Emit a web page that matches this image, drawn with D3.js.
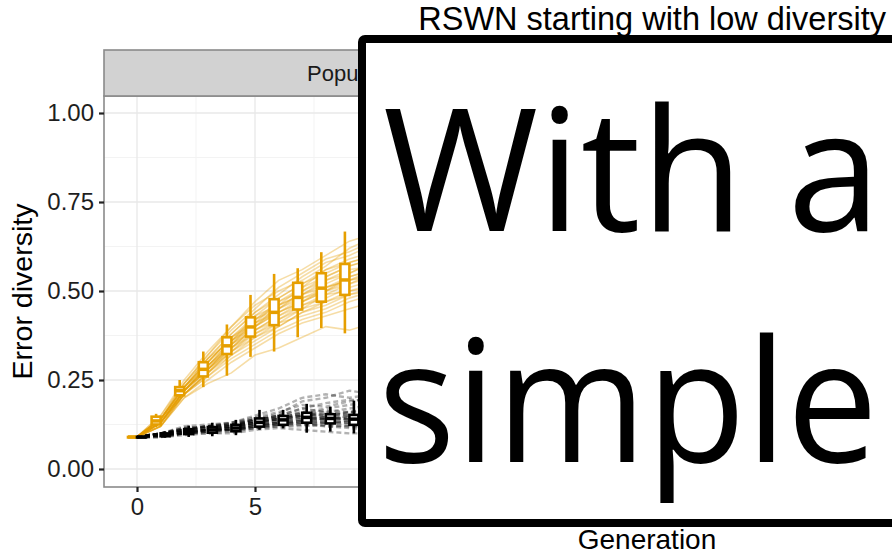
<!DOCTYPE html>
<html>
<head>
<meta charset="utf-8">
<script src="https://cdn.jsdelivr.net/npm/d3@7"></script>
<style>
  body { margin: 0; background: #fff; }
  svg text { font-family: "Liberation Sans", Arial, sans-serif; }
</style>
</head>
<body>
<div id="chart"></div>
<script>
// DATA
const generations = [0, 1, 2, 3, 4, 5, 6, 7, 8, 9, 10];

// orange boxplot stats per generation
const orangeLow  = [0.09, 0.118, 0.200, 0.230, 0.262, 0.315, 0.330, 0.370, 0.396, 0.381, 0.400];
const orangeQ1   = [0.09, 0.125, 0.207, 0.260, 0.323, 0.372, 0.404, 0.448, 0.470, 0.489, 0.500];
const orangeMed  = [0.09, 0.135, 0.220, 0.280, 0.346, 0.399, 0.440, 0.482, 0.508, 0.531, 0.550];
const orangeQ3   = [0.09, 0.147, 0.230, 0.300, 0.370, 0.426, 0.477, 0.523, 0.550, 0.576, 0.600];
const orangeHigh = [0.09, 0.155, 0.250, 0.330, 0.406, 0.489, 0.548, 0.564, 0.609, 0.667, 0.680];

// black boxplot stats per generation
const blackLow  = [0.09, 0.088, 0.090, 0.092, 0.095, 0.110, 0.114, 0.102, 0.105, 0.100, 0.100];
const blackQ1   = [0.09, 0.092, 0.098, 0.102, 0.106, 0.119, 0.124, 0.130, 0.128, 0.124, 0.125];
const blackMed  = [0.09, 0.096, 0.105, 0.110, 0.115, 0.131, 0.138, 0.145, 0.142, 0.140, 0.140];
const blackQ3   = [0.09, 0.100, 0.112, 0.118, 0.124, 0.142, 0.149, 0.158, 0.154, 0.152, 0.155];
const blackHigh = [0.09, 0.105, 0.122, 0.130, 0.138, 0.166, 0.166, 0.183, 0.175, 0.192, 0.190];

// individual runs (one value per generation)
const orangeRuns = [
    [0.09, 0.13, 0.22, 0.28, 0.35, 0.40, 0.44, 0.48, 0.51, 0.53, 0.55],
    [0.09, 0.14, 0.23, 0.30, 0.37, 0.43, 0.48, 0.52, 0.55, 0.58, 0.60],
    [0.09, 0.12, 0.20, 0.25, 0.30, 0.34, 0.38, 0.41, 0.43, 0.45, 0.47],
    [0.09, 0.15, 0.25, 0.33, 0.40, 0.47, 0.53, 0.56, 0.60, 0.64, 0.66],
    [0.09, 0.13, 0.21, 0.27, 0.33, 0.38, 0.42, 0.45, 0.49, 0.50, 0.52],
    [0.09, 0.14, 0.22, 0.29, 0.36, 0.41, 0.45, 0.50, 0.53, 0.56, 0.57],
    [0.09, 0.12, 0.21, 0.26, 0.32, 0.36, 0.40, 0.44, 0.46, 0.49, 0.51],
    [0.09, 0.14, 0.24, 0.31, 0.38, 0.44, 0.49, 0.54, 0.58, 0.60, 0.63],
    [0.09, 0.13, 0.22, 0.28, 0.34, 0.39, 0.43, 0.47, 0.50, 0.52, 0.54],
    [0.09, 0.13, 0.21, 0.27, 0.34, 0.40, 0.45, 0.48, 0.50, 0.54, 0.56],
    [0.09, 0.12, 0.20, 0.24, 0.27, 0.32, 0.34, 0.37, 0.40, 0.39, 0.41],
    [0.09, 0.14, 0.23, 0.30, 0.36, 0.42, 0.46, 0.49, 0.52, 0.55, 0.58],
    [0.09, 0.13, 0.22, 0.29, 0.35, 0.39, 0.42, 0.46, 0.48, 0.51, 0.53],
    [0.09, 0.15, 0.24, 0.32, 0.39, 0.45, 0.51, 0.55, 0.59, 0.61, 0.64],
    [0.09, 0.13, 0.21, 0.28, 0.34, 0.38, 0.41, 0.45, 0.47, 0.49, 0.50],
    [0.09, 0.14, 0.22, 0.30, 0.37, 0.41, 0.47, 0.50, 0.54, 0.57, 0.59],
    [0.09, 0.12, 0.21, 0.27, 0.33, 0.37, 0.40, 0.44, 0.47, 0.50, 0.51],
    [0.09, 0.14, 0.23, 0.31, 0.36, 0.43, 0.46, 0.51, 0.56, 0.59, 0.61],
    [0.09, 0.13, 0.22, 0.28, 0.35, 0.41, 0.44, 0.47, 0.51, 0.53, 0.56],
    [0.09, 0.14, 0.23, 0.29, 0.36, 0.40, 0.46, 0.49, 0.53, 0.55, 0.58],
    [0.09, 0.13, 0.22, 0.29, 0.35, 0.42, 0.47, 0.51, 0.54, 0.57, 0.59],
    [0.09, 0.14, 0.24, 0.32, 0.40, 0.46, 0.50, 0.53, 0.57, 0.62, 0.65],
    [0.09, 0.12, 0.21, 0.26, 0.31, 0.35, 0.39, 0.42, 0.44, 0.47, 0.49],
    [0.09, 0.13, 0.22, 0.28, 0.33, 0.39, 0.43, 0.46, 0.49, 0.52, 0.55],
    [0.09, 0.14, 0.23, 0.30, 0.37, 0.42, 0.45, 0.49, 0.51, 0.54, 0.56],
    [0.09, 0.13, 0.21, 0.27, 0.32, 0.37, 0.41, 0.43, 0.45, 0.48, 0.50],
    [0.09, 0.14, 0.23, 0.31, 0.38, 0.44, 0.48, 0.52, 0.56, 0.58, 0.60],
    [0.09, 0.13, 0.22, 0.29, 0.34, 0.40, 0.44, 0.47, 0.50, 0.53, 0.54]
];

const blackRuns = [
    [0.09, 0.095, 0.100, 0.110, 0.115, 0.130, 0.140, 0.150, 0.145, 0.140, 0.140],
    [0.09, 0.100, 0.110, 0.120, 0.120, 0.135, 0.150, 0.160, 0.170, 0.180, 0.190],
    [0.09, 0.090, 0.100, 0.100, 0.105, 0.115, 0.120, 0.125, 0.120, 0.115, 0.110],
    [0.09, 0.100, 0.115, 0.120, 0.130, 0.150, 0.170, 0.200, 0.210, 0.200, 0.210],
    [0.09, 0.095, 0.105, 0.110, 0.110, 0.125, 0.135, 0.140, 0.140, 0.135, 0.130],
    [0.09, 0.100, 0.110, 0.115, 0.120, 0.140, 0.145, 0.155, 0.150, 0.155, 0.160],
    [0.09, 0.090, 0.095, 0.100, 0.100, 0.110, 0.115, 0.110, 0.105, 0.100, 0.100],
    [0.09, 0.100, 0.105, 0.110, 0.120, 0.130, 0.140, 0.150, 0.160, 0.150, 0.150],
    [0.09, 0.095, 0.110, 0.120, 0.125, 0.140, 0.150, 0.170, 0.160, 0.170, 0.180],
    [0.09, 0.095, 0.100, 0.105, 0.110, 0.120, 0.125, 0.130, 0.130, 0.125, 0.120],
    [0.09, 0.100, 0.110, 0.110, 0.115, 0.130, 0.135, 0.145, 0.140, 0.150, 0.145],
    [0.09, 0.090, 0.100, 0.110, 0.115, 0.120, 0.130, 0.135, 0.135, 0.130, 0.125],
    [0.09, 0.100, 0.115, 0.120, 0.130, 0.145, 0.160, 0.180, 0.175, 0.190, 0.200],
    [0.09, 0.095, 0.105, 0.110, 0.115, 0.125, 0.130, 0.140, 0.145, 0.140, 0.135],
    [0.09, 0.100, 0.110, 0.115, 0.120, 0.135, 0.140, 0.160, 0.150, 0.145, 0.150],
    [0.09, 0.095, 0.100, 0.105, 0.110, 0.115, 0.120, 0.120, 0.125, 0.120, 0.115],
    [0.09, 0.100, 0.110, 0.120, 0.125, 0.140, 0.145, 0.150, 0.155, 0.160, 0.170],
    [0.09, 0.095, 0.105, 0.110, 0.120, 0.130, 0.140, 0.145, 0.140, 0.140, 0.140],
    [0.09, 0.100, 0.120, 0.125, 0.130, 0.140, 0.155, 0.190, 0.200, 0.220, 0.210],
    [0.09, 0.095, 0.100, 0.110, 0.110, 0.120, 0.130, 0.135, 0.130, 0.130, 0.130],
    [0.09, 0.100, 0.105, 0.115, 0.120, 0.130, 0.145, 0.155, 0.165, 0.160, 0.170],
    [0.09, 0.095, 0.100, 0.105, 0.115, 0.125, 0.130, 0.125, 0.130, 0.135, 0.130],
    [0.09, 0.100, 0.115, 0.115, 0.125, 0.135, 0.150, 0.170, 0.185, 0.195, 0.190],
    [0.09, 0.095, 0.105, 0.110, 0.110, 0.120, 0.125, 0.135, 0.140, 0.145, 0.140],
    [0.09, 0.090, 0.100, 0.105, 0.110, 0.115, 0.125, 0.130, 0.120, 0.120, 0.125],
    [0.09, 0.100, 0.110, 0.120, 0.125, 0.135, 0.140, 0.150, 0.145, 0.160, 0.155]
];

// ticks and labels
const yTicks = [0, 0.25, 0.5, 0.75, 1];
const yMinor = [0.125, 0.375, 0.625, 0.875];
const xTicks = [0, 5];
const xGrid = [0, 5, 10, 15, 20];
const xMinor = [2.5, 7.5, 12.5, 17.5];
const titleText = 'RSWN starting with low diversity';
const stripText = 'Population';
const xLabel = 'Generation';
const yLabel = 'Error diversity';
const overlayLines = ['With a', 'simple'];

// Margins / layout
let width = 892,
    height = 554,
    panel = {left: 104, right: 642, top: 96, bottom: 487},
    stripTop = 50;

const orange = '#E69F00';
const dodge = 4.5;
const boxW = 9;

const svg = d3.select('#chart')
    .append('svg')
    .attr('width', width)
    .attr('height', height);

// SCALES
let xScale = d3.scaleLinear()
    .domain([0, 20])
    .range([137, 609]);

let yScale = d3.scaleLinear()
    .domain([0, 1])
    .range([469, 113]);

// clip for strip label (covered by the overlay box anyway)
svg.append('clipPath').attr('id', 'stripClip')
    .append('rect')
    .attr('x', panel.left).attr('y', stripTop)
    .attr('width', 358 - panel.left).attr('height', panel.top - stripTop);

// panel background
svg.append('rect')
    .attr('x', panel.left).attr('y', panel.top)
    .attr('width', panel.right - panel.left)
    .attr('height', panel.bottom - panel.top)
    .attr('fill', '#fff');

// GRID
let grid = svg.append('g').attr('class', 'grid');
grid.selectAll('.ymin').data(yMinor).enter().append('line')
    .attr('x1', panel.left).attr('x2', panel.right)
    .attr('y1', d => yScale(d)).attr('y2', d => yScale(d))
    .attr('stroke', '#f3f3f3').attr('stroke-width', 1);
grid.selectAll('.xmin').data(xMinor).enter().append('line')
    .attr('y1', panel.top).attr('y2', panel.bottom)
    .attr('x1', d => xScale(d)).attr('x2', d => xScale(d))
    .attr('stroke', '#f3f3f3').attr('stroke-width', 1);
grid.selectAll('.ymaj').data(yTicks).enter().append('line')
    .attr('x1', panel.left).attr('x2', panel.right)
    .attr('y1', d => yScale(d)).attr('y2', d => yScale(d))
    .attr('stroke', '#e8e8e8').attr('stroke-width', 1.3);
grid.selectAll('.xmaj').data(xGrid).enter().append('line')
    .attr('y1', panel.top).attr('y2', panel.bottom)
    .attr('x1', d => xScale(d)).attr('x2', d => xScale(d))
    .attr('stroke', '#e8e8e8').attr('stroke-width', 1.3);

// RUN LINES
let runLine = d3.line()
    .x((d, i) => xScale(generations[i]))
    .y(d => yScale(d));

svg.append('g').selectAll('path')
    .data(blackRuns).enter().append('path')
    .attr('d', runLine)
    .attr('fill', 'none')
    .attr('stroke', '#000')
    .attr('stroke-opacity', 0.3)
    .attr('stroke-width', 2.4)
    .attr('stroke-dasharray', '5,3');

svg.append('g').selectAll('path')
    .data(orangeRuns).enter().append('path')
    .attr('d', runLine)
    .attr('fill', 'none')
    .attr('stroke', orange)
    .attr('stroke-opacity', 0.35)
    .attr('stroke-width', 1.6);

// BOXPLOTS
function drawBoxes(color, offset, low, q1, med, q3, high) {
    let g = svg.append('g');
    let boxes = g.selectAll('g')
        .data(generations).enter().append('g')
        .attr('transform', (d) => 'translate(' + (xScale(d) + offset) + ',0)');

    boxes.append('line')
        .attr('y1', (d, i) => yScale(high[i]))
        .attr('y2', (d, i) => yScale(low[i]))
        .attr('stroke', color).attr('stroke-width', 2.6);

    boxes.append('rect')
        .attr('x', -boxW / 2)
        .attr('width', boxW)
        .attr('y', (d, i) => yScale(q3[i]))
        .attr('height', (d, i) => Math.max(yScale(q1[i]) - yScale(q3[i]), 0.5))
        .attr('fill', '#fff')
        .attr('stroke', color).attr('stroke-width', 2.6);

    boxes.append('line')
        .attr('x1', -boxW / 2).attr('x2', boxW / 2)
        .attr('y1', (d, i) => yScale(med[i]))
        .attr('y2', (d, i) => yScale(med[i]))
        .attr('stroke', color).attr('stroke-width', 3.5);
}

drawBoxes(orange, -dodge, orangeLow, orangeQ1, orangeMed, orangeQ3, orangeHigh);
drawBoxes('#000', dodge, blackLow, blackQ1, blackMed, blackQ3, blackHigh);

// PANEL BORDER
svg.append('rect')
    .attr('x', panel.left).attr('y', panel.top)
    .attr('width', panel.right - panel.left)
    .attr('height', panel.bottom - panel.top)
    .attr('fill', 'none')
    .attr('stroke', '#8a8a8a')
    .attr('stroke-width', 1.6);

// STRIP
svg.append('rect')
    .attr('x', panel.left).attr('y', stripTop)
    .attr('width', panel.right - panel.left)
    .attr('height', panel.top - stripTop)
    .attr('fill', '#d2d2d2')
    .attr('stroke', '#8a8a8a')
    .attr('stroke-width', 1.6);

svg.append('text')
    .attr('x', 307).attr('y', 81)
    .attr('clip-path', 'url(#stripClip)')
    .attr('font-size', 22)
    .attr('fill', '#1a1a1a')
    .text(stripText);

// AXES
let xAxis = d3.axisBottom(xScale).tickValues(xTicks).tickSize(5).tickPadding(6).tickFormat(d3.format('d'));
let yAxis = d3.axisLeft(yScale).tickValues(yTicks).tickSize(5).tickPadding(5).tickFormat(d3.format('.2f'));

let gX = svg.append('g')
    .attr('transform', 'translate(0,' + panel.bottom + ')')
    .call(xAxis);
let gY = svg.append('g')
    .attr('transform', 'translate(' + panel.left + ',0)')
    .call(yAxis);

[gX, gY].forEach(g => {
    g.select('.domain').remove();
    g.selectAll('.tick line').attr('stroke', '#222').attr('stroke-width', 2.2);
    g.selectAll('.tick text')
        .attr('font-family', '"Liberation Sans", Arial, sans-serif')
        .attr('font-size', 24)
        .attr('fill', '#1e1e1e');
});

// axis titles
svg.append('text')
    .attr('x', 647).attr('y', 549)
    .attr('text-anchor', 'middle')
    .attr('font-size', 28)
    .text(xLabel);

svg.append('text')
    .attr('transform', 'translate(32,' + ((panel.top + panel.bottom) / 2) + ') rotate(-90)')
    .attr('text-anchor', 'middle')
    .attr('font-size', 28.5)
    .text(yLabel);

// TITLE
svg.append('text')
    .attr('x', 886).attr('y', 30)
    .attr('text-anchor', 'end')
    .attr('font-size', 32.5)
    .text(titleText);

// OVERLAY BOX
svg.append('rect')
    .attr('x', 362).attr('y', 39)
    .attr('width', 620).attr('height', 484)
    .attr('rx', 3)
    .attr('fill', '#fff')
    .attr('stroke', '#000')
    .attr('stroke-width', 8);

const overlayX = [383, 378];
const overlayLen = [498, 500];
svg.selectAll('.overlay')
    .data(overlayLines).enter().append('text')
    .attr('class', 'overlay')
    .attr('x', (d, i) => overlayX[i])
    .attr('y', (d, i) => 231 + i * 231)
    .attr('textLength', (d, i) => overlayLen[i])
    .attr('lengthAdjust', 'spacingAndGlyphs')
    .style('font-family', '"Open Sans", sans-serif')
    .attr('font-size', 171)
    .attr('fill', '#000')
    .text(d => d);
</script>
</body>
</html>
